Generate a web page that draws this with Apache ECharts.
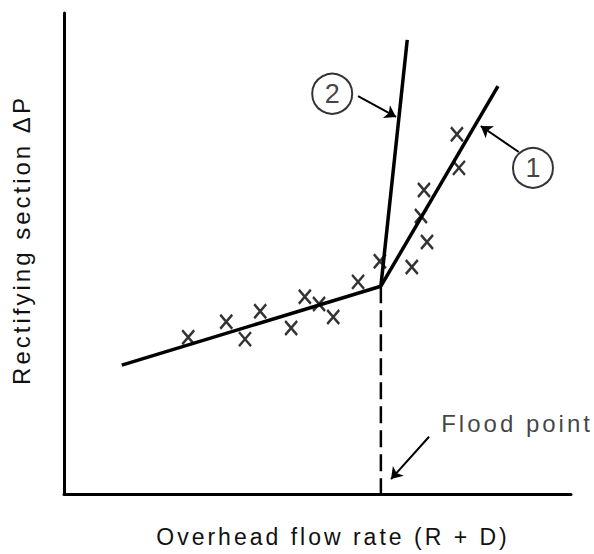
<!DOCTYPE html>
<html>
<head>
<meta charset="utf-8">
<title>Rectifying section pressure drop</title>
<script src="https://cdn.jsdelivr.net/npm/echarts@6/dist/echarts.min.js"></script>
<style>
  html, body { margin: 0; padding: 0; background: #fff; }
  #chart { width: 594px; height: 554px; }
  /* the scanned lettering is spaced out wide */
  #chart text { letter-spacing: 3px; }
</style>
</head>
<body>
<div id="chart"></div>
<script>
// 流量 (x) / 压降 (y), both in arbitrary 0-100 units
const lowLine = [[11.4, 26.8], [62.5, 43.2]];
const line1 = [[62.5, 43.2], [85.6, 84.8]];
const line2 = [[62.5, 43.2], [67.7, 94.4]];
const floodLine = [[62.5, 43.2], [62.5, 0]];

// measured points (x marks)
const measured = [
  [24.5, 32.6], [32.0, 35.8], [35.7, 32.2], [38.7, 38.0],
  [44.8, 34.5], [47.5, 41.0], [50.3, 39.5], [53.1, 36.8],
  [58.0, 44.1], [62.3, 48.4], [68.6, 47.2], [71.6, 52.4],
  [70.4, 57.8], [71.0, 63.2], [77.5, 74.8], [77.9, 67.8]
];

// circled curve numbers
const tags = [['1', 92.5, 67.8], ['2', 52.9, 83.2]];

// callout arrows: [from, to]
const arrows = [
  [[58.0, 82.7], [65.5, 78.4]],
  [[89.7, 71.1], [82.2, 76.5]],
  [[72.0, 11.9], [64.5, 3.1]]
];

const floodText = ['Flood point', 74.4, 14.6];
const xTitle = 'Overhead flow rate (R + D)';
const yTitle = 'Rectifying section ΔP';

const chart = echarts.init(document.getElementById('chart'), null, { renderer: 'svg' });

const font = '"Liberation Sans", Arial, sans-serif';
const black = '#000';

function solid(data) {
  return {
    type: 'line',
    data: data,
    symbol: 'none',
    silent: true,
    lineStyle: { color: black, width: 3.5 }
  };
}

const axisCommon = {
  type: 'value',
  min: 0,
  max: 100,
  axisLine: { show: true, onZero: false, lineStyle: { color: black, width: 3 } },
  axisTick: { show: false },
  axisLabel: { show: false },
  splitLine: { show: false }
};

chart.setOption({
  backgroundColor: '#fff',
  animation: false,
  grid: { left: 64, right: 23, top: 13, bottom: 60, outerBoundsMode: 'none' },
  xAxis: axisCommon,
  yAxis: axisCommon,
  series: [
    solid(lowLine),
    solid(line1),
    solid(line2),
    {
      type: 'line',
      data: floodLine,
      symbol: 'none',
      silent: true,
      lineStyle: { color: black, width: 2.5, type: [17, 7] }
    },
    {
      type: 'scatter',
      data: measured,
      symbol: 'path://M0,0L10,12M10,0L0,12',
      symbolSize: [12, 14],
      silent: true,
      itemStyle: { color: 'transparent', borderColor: black, borderWidth: 2.5 }
    },
    {
      type: 'scatter',
      data: tags.map(t => ({ name: t[0], value: [t[1], t[2]] })),
      symbol: 'circle',
      symbolSize: 40,
      silent: true,
      itemStyle: { color: '#fff', borderColor: black, borderWidth: 2 },
      label: {
        show: true,
        position: 'inside',
        formatter: p => p.name,
        color: '#111',
        fontSize: 27,
        fontFamily: font,
        offset: [1.5, 0]
      },
      markLine: {
        silent: true,
        symbol: ['none', 'arrow'],
        symbolSize: 11,
        label: { show: false },
        lineStyle: { color: black, width: 2, type: 'solid' },
        data: arrows.map(a => [{ coord: a[0] }, { coord: a[1] }])
      }
    },
    {
      type: 'scatter',
      data: [{ name: floodText[0], value: [floodText[1], floodText[2]] }],
      symbolSize: 0,
      silent: true,
      label: {
        show: true,
        position: 'right',
        distance: 0,
        formatter: p => p.name,
        color: '#111',
        fontSize: 24,
        fontFamily: font
      }
    }
  ],
  graphic: [
    {
      type: 'text',
      x: 333,
      y: 537,
      silent: true,
      style: {
        text: xTitle,
        fill: '#111',
        fontSize: 23,
        fontFamily: font,
        align: 'center',
        verticalAlign: 'middle'
      }
    },
    {
      type: 'text',
      x: 21,
      y: 240,
      rotation: Math.PI / 2,
      silent: true,
      style: {
        text: yTitle,
        fill: '#111',
        fontSize: 24,
        fontFamily: font,
        align: 'center',
        verticalAlign: 'middle'
      }
    }
  ]
});
</script>
</body>
</html>
